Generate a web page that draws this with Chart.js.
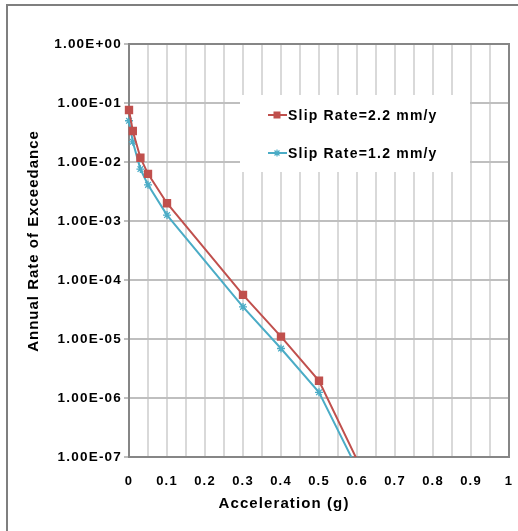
<!DOCTYPE html>
<html>
<head>
<meta charset="utf-8">
<script src="https://cdn.jsdelivr.net/npm/chart.js@4.4.1/dist/chart.umd.min.js"></script>
<style>
  html, body { margin: 0; padding: 0; background: #ffffff; }
  #wrap { position: relative; width: 518px; height: 531px; overflow: hidden; }
  #frame { position: absolute; left: 6px; top: 4px; width: 600px; height: 600px;
           border-left: 2px solid #7f7f7f; border-top: 2px solid #7f7f7f; box-sizing: border-box; }
  #c { position: absolute; left: 0; top: 0; }
</style>
</head>
<body>
<div id="wrap">
  <div id="frame"></div>
  <canvas id="c" width="518" height="531"></canvas>
</div>
<script>
// ---- data ----
const accel = [0, 0.01, 0.03, 0.05, 0.1, 0.3, 0.4, 0.5, 0.6];
const rate22 = [7.6e-2, 3.35e-2, 1.18e-2, 6.3e-3, 2.0e-3, 5.6e-5, 1.1e-5, 1.96e-6, 9e-8];
const rate12 = [5.0e-2, 2.2e-2, 7.6e-3, 4.1e-3, 1.26e-3, 3.5e-5, 6.9e-6, 1.25e-6, 6.4e-8];
const seriesLabels = ['Slip Rate=2.2 mm/y', 'Slip Rate=1.2 mm/y'];
const xTickLabels = ['0', '0.1', '0.2', '0.3', '0.4', '0.5', '0.6', '0.7', '0.8', '0.9', '1'];
const yTickValues = [1, 1e-1, 1e-2, 1e-3, 1e-4, 1e-5, 1e-6, 1e-7];
const yTickLabels = ['1.00E+00', '1.00E-01', '1.00E-02', '1.00E-03', '1.00E-04', '1.00E-05', '1.00E-06', '1.00E-07'];
const xTitle = 'Acceleration (g)';
const yTitle = 'Annual Rate of Exceedance';

const RED = '#c0504d';
const BLUE = '#4bacc6';
const FONT = "'Liberation Sans', Arial, sans-serif";
const YMIN = 1e-7;

function pts(xs, ys) { return xs.map((x, i) => ({ x: x, y: ys[i] })); }
function radius(r) { return ctx => (ctx.raw && ctx.raw.y < YMIN) ? 0 : r; }

const decor = {
  id: 'decor',
  beforeDraw(chart) {
    // wider text, like the stretched original
    chart.ctx.letterSpacing = '1.2px';
  },
  beforeDatasetsDraw(chart) {
    const { ctx, chartArea: a } = chart;
    ctx.save();
    // plot border
    ctx.strokeStyle = '#868686';
    ctx.lineWidth = 2;
    ctx.strokeRect(a.left, a.top, a.right - a.left, a.bottom - a.top);
    // legend box
    const lx = 240, ly = 95, lw = 230, lh = 77;
    ctx.fillStyle = '#ffffff';
    ctx.fillRect(lx, ly, lw, lh);
    const items = [
      { y: 115, color: RED, style: 'rect' },
      { y: 153, color: BLUE, style: 'star' }
    ];
    chart.data.datasets.forEach((ds, i) => {
      const it = items[i];
      ctx.strokeStyle = it.color;
      ctx.lineWidth = 2;
      ctx.beginPath();
      ctx.moveTo(268, it.y);
      ctx.lineTo(287, it.y);
      ctx.stroke();
      if (it.style === 'rect') {
        ctx.fillStyle = it.color; ctx.fillRect(273.5, it.y - 3.5, 7, 7);
      } else {
        ctx.lineWidth = 1.2;
        Chart.helpers.drawPoint(ctx, { pointStyle: it.style, radius: 3.5, borderWidth: 1.2 }, 277, it.y);
      }
      ctx.fillStyle = '#000000';
      ctx.font = "bold 14px " + FONT;
      ctx.letterSpacing = '1.2px';
      ctx.textBaseline = 'middle';
      ctx.textAlign = 'left';
      ctx.fillText(ds.label, 288, it.y + 1);
    });
    ctx.restore();
  },
  afterDraw(chart) {
    const { ctx } = chart;
    ctx.save();
    ctx.fillStyle = '#000000';
    ctx.font = "bold 15px " + FONT;
    ctx.letterSpacing = '1.1px';
    ctx.textAlign = 'center';
    ctx.textBaseline = 'middle';
    ctx.fillText(xTitle, 284, 504);
    ctx.letterSpacing = '1px';
    ctx.translate(34, 241);
    ctx.rotate(-Math.PI / 2);
    ctx.fillText(yTitle, 0, 0);
    ctx.restore();
  }
};

const CLIP = { left: 10, top: 10, right: 10, bottom: 0 };

new Chart(document.getElementById('c'), {
  type: 'line',
  data: {
    datasets: [
      {
        label: seriesLabels[0],
        data: pts(accel, rate22),
        borderColor: RED, backgroundColor: RED,
        borderWidth: 2, pointStyle: 'rect', pointRadius: radius(4.5),
        pointBorderColor: RED, pointBackgroundColor: RED, tension: 0, clip: CLIP
      },
      {
        label: seriesLabels[1],
        data: pts(accel, rate12),
        borderColor: BLUE, backgroundColor: BLUE,
        borderWidth: 2, pointStyle: 'star', pointRadius: radius(4),
        pointBorderWidth: 1.3,
        pointBorderColor: BLUE, pointBackgroundColor: BLUE, tension: 0, clip: CLIP
      }
    ]
  },
  options: {
    responsive: false,
    animation: false,
    devicePixelRatio: 1,
    layout: { padding: { left: 0, top: 44, right: 9, bottom: 0 } },
    plugins: { legend: { display: false }, tooltip: { enabled: false }, title: { display: false } },
    scales: {
      x: {
        type: 'linear', min: 0, max: 1,
        afterFit(s) { s.height = 74; },
        ticks: {
          stepSize: 0.05, autoSkip: false, maxRotation: 0,
          color: '#000000', padding: 2,
          font: { family: FONT, size: 13, weight: 'bold' },
          callback(v, i) { return i % 2 === 0 ? xTickLabels[i / 2] : ''; }
        },
        grid: { color: '#d9d9d9', lineWidth: 2, drawTicks: true, tickLength: 15, tickColor: 'rgba(0,0,0,0)' },
        border: { display: true, color: '#7f7f7f', width: 2 }
      },
      y: {
        type: 'logarithmic', min: YMIN, max: 1,
        afterFit(s) { s.width = 129; },
        afterBuildTicks(s) { s.ticks = yTickValues.map(v => ({ value: v })); },
        ticks: {
          autoSkip: false, color: '#000000', padding: 2,
          font: { family: FONT, size: 13.5, weight: 'bold' },
          callback(v) { const i = yTickValues.findIndex(t => Math.abs(Math.log10(t) - Math.log10(v)) < 1e-6); return i >= 0 ? yTickLabels[i] : ''; }
        },
        grid: { color: '#bfbfbf', lineWidth: 2, drawTicks: true, tickLength: 5 },
        border: { display: true, color: '#7f7f7f', width: 2 }
      }
    }
  },
  plugins: [decor]
});
</script>
</body>
</html>
